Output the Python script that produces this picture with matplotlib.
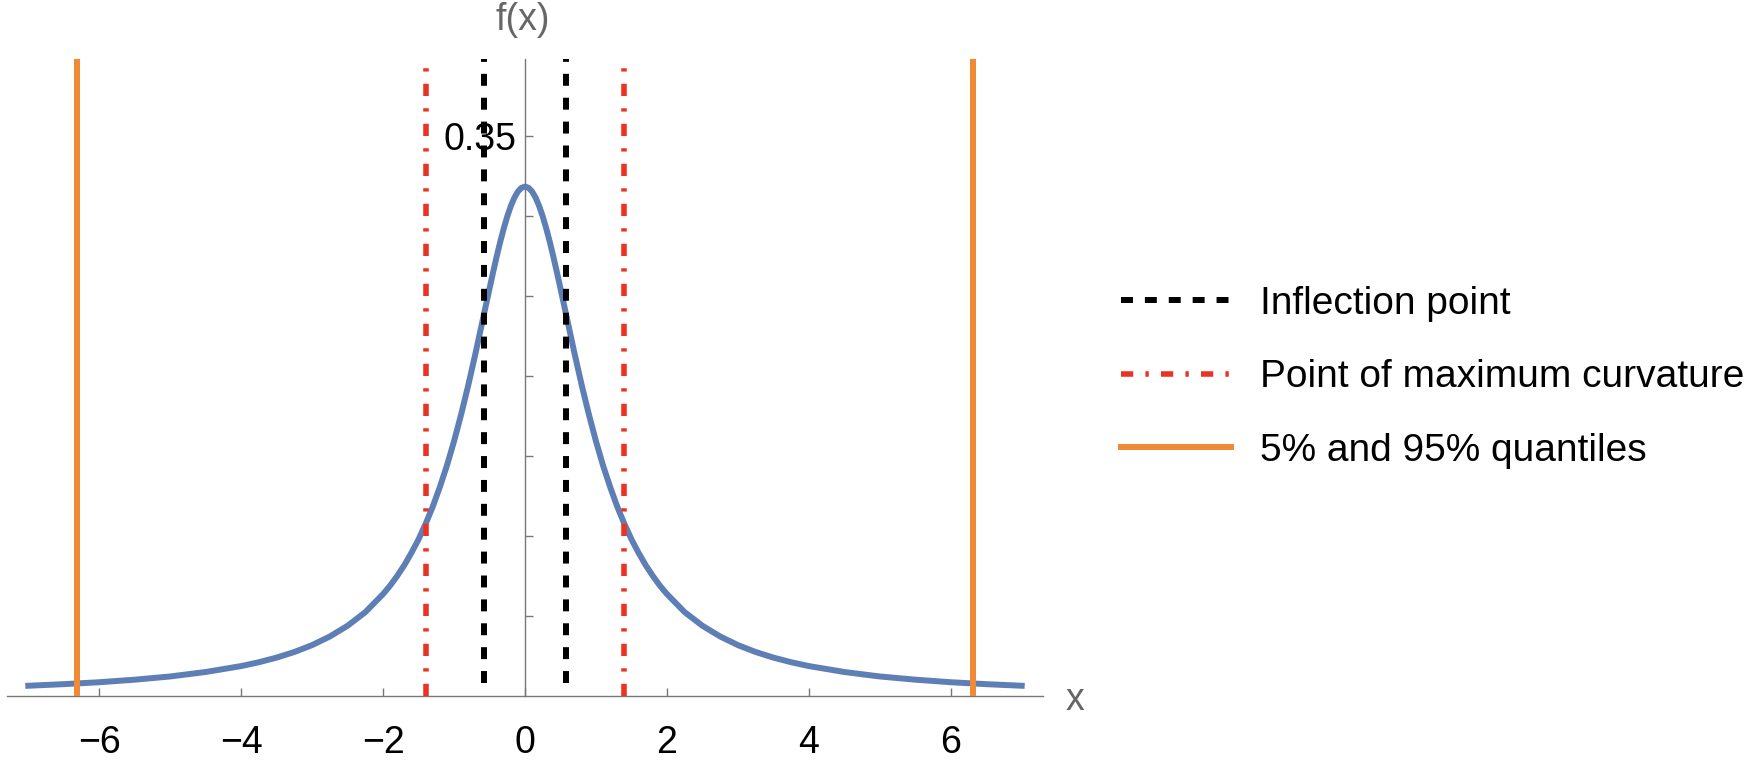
import matplotlib
matplotlib.use("Agg")
import matplotlib.pyplot as plt

plt.rcParams['font.family'] = ['Liberation Sans', 'DejaVu Sans']

# density curve (right half; the curve is symmetric about 0)
x_half = [0.0, 0.05, 0.1, 0.15, 0.2, 0.25, 0.3, 0.35, 0.4, 0.45, 0.5, 0.6, 0.7, 0.8, 0.9,
          1.0, 1.1, 1.2, 1.3, 1.4, 1.5, 1.6, 1.7, 1.8, 1.9, 2.0, 2.25, 2.5, 2.75, 3.0,
          3.25, 3.5, 3.75, 4.0, 4.5, 5.0, 5.5, 6.0, 6.5, 7.0]
y_half = [0.3183, 0.3175, 0.3152, 0.3113, 0.3061, 0.2996, 0.2920, 0.2836, 0.2744, 0.2647,
          0.2546, 0.2341, 0.2136, 0.1941, 0.1759, 0.1592, 0.1440, 0.1306, 0.1183, 0.1076,
          0.0979, 0.0895, 0.0818, 0.0751, 0.0690, 0.0637, 0.0524, 0.0439, 0.0372, 0.0318,
          0.0275, 0.0240, 0.0211, 0.0187, 0.0150, 0.0122, 0.0102, 0.0086, 0.0074, 0.0064]

inflection = [-0.577, 0.577]
max_curvature = [-1.4, 1.4]
quantiles = [-6.314, 6.314]

x_ticks = [-6, -4, -2, 0, 2, 4, 6]
y_ticks = [0.05, 0.10, 0.15, 0.20, 0.25, 0.30, 0.35]
y_tick_labels = ['', '', '', '', '', '', '0.35']

x_curve = [-v for v in x_half[:0:-1]] + x_half
y_curve = y_half[:0:-1] + y_half

blue = '#5E7FB5'
red = '#EC3323'
orange = '#EF8A35'
gray = '#666666'

fig = plt.figure(figsize=(17.52, 7.66), dpi=100)
W, H = 1752, 766
ax = fig.add_axes([7 / W, 1 - 696 / H, (1043 - 7) / W, (696 - 59) / H])
ax.set_xlim(-7.3, 7.3)
ax.set_ylim(0, 0.398)

ax.plot(x_curve, y_curve, color=blue, lw=4.3, zorder=3, solid_joinstyle='round')

for i, xv in enumerate(inflection):
    ax.plot([xv, xv], [0.008, 0.398], color='black', lw=4.3, linestyle=(0, (2, 2)),
            zorder=4, label='Inflection point' if i == 0 else None)
for i, xv in enumerate(max_curvature):
    ax.plot([xv, xv], [0, 0.396], color=red, lw=4.0, linestyle=(0, (2.2, 2.2, 0.6, 2.2)),
            zorder=4, label='Point of maximum curvature' if i == 0 else None)
for i, xv in enumerate(quantiles):
    ax.plot([xv, xv], [0, 0.398], color=orange, lw=4.3, zorder=4,
            label='5% and 95% quantiles' if i == 0 else None)

for s in ['top', 'right']:
    ax.spines[s].set_visible(False)
ax.spines['left'].set_position(('data', 0))
for s in ['left', 'bottom']:
    ax.spines[s].set_color('#777777')
    ax.spines[s].set_linewidth(1.0)

ax.set_xticks(x_ticks)
ax.set_xticklabels([str(t).replace('-', '\u2212') for t in x_ticks])
ax.set_yticks(y_ticks)
ax.set_yticklabels(y_tick_labels)
ax.tick_params(axis='x', direction='in', length=6, width=1, color='#777777',
               labelsize=27, pad=21)
ax.tick_params(axis='y', direction='in', length=5.5, width=1, color='#777777',
               labelsize=27, pad=6)

fig.text(523 / W, 1 - 20 / H, 'f(x)', color=gray, fontsize=27, ha='center', va='center')
fig.text(1075 / W, 1 - 700 / H, 'x', color=gray, fontsize=27, ha='center', va='center')

fig.legend(loc='upper left', bbox_to_anchor=(1121 / W, 1 - 286 / H), frameon=False,
           fontsize=28, handlelength=2.83, handletextpad=0.75, labelspacing=0.96,
           borderpad=0, borderaxespad=0)

fig.savefig('out.png', dpi=100)
